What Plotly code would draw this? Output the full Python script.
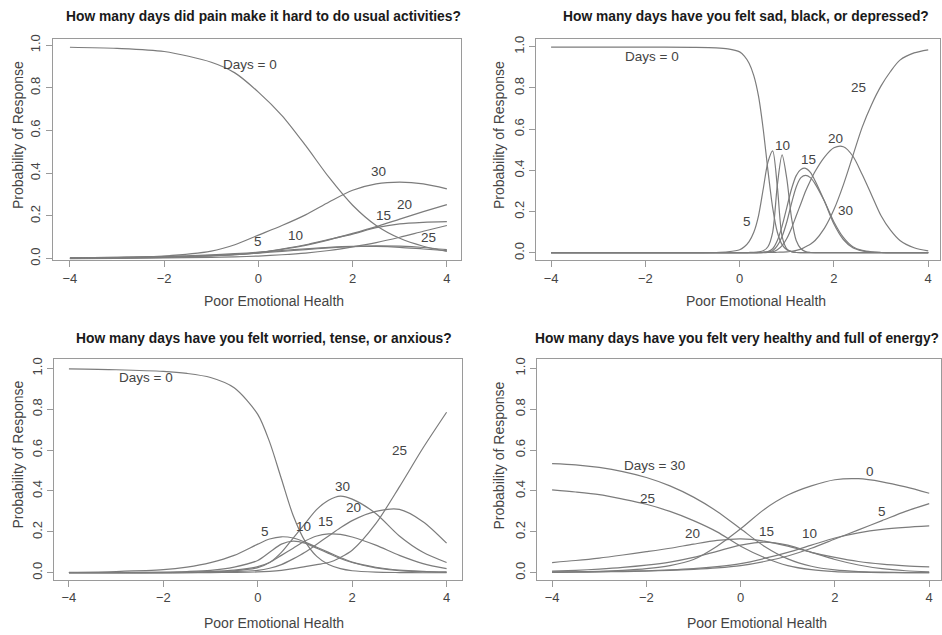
import plotly.graph_objects as go

# ---------------- data ----------------
# Panel 1: pain made it hard to do usual activities
X1 = [-4, -3, -2, -1, -0.5, 0, 0.5, 1, 1.5, 2, 2.5, 3, 3.5, 4]
P1_D0 = [0.99, 0.985, 0.97, 0.92, 0.87, 0.78, 0.67, 0.53, 0.38, 0.25, 0.155, 0.095, 0.058, 0.034]
P1_D5 = [0.003, 0.006, 0.01, 0.018, 0.023, 0.03, 0.038, 0.046, 0.053, 0.057, 0.057, 0.053, 0.045, 0.037]
P1_D10 = [0.002, 0.004, 0.008, 0.015, 0.02, 0.026, 0.034, 0.042, 0.05, 0.056, 0.06, 0.058, 0.052, 0.042]
P1_D15 = [0.001, 0.003, 0.006, 0.013, 0.018, 0.028, 0.045, 0.065, 0.09, 0.115, 0.145, 0.163, 0.17, 0.173]
P1_D20 = [0.001, 0.003, 0.006, 0.013, 0.018, 0.027, 0.043, 0.062, 0.088, 0.118, 0.15, 0.185, 0.22, 0.253]
P1_D25 = [0.0, 0.001, 0.003, 0.006, 0.008, 0.012, 0.018, 0.026, 0.038, 0.055, 0.075, 0.10, 0.128, 0.155]
P1_D30 = [0.003, 0.006, 0.012, 0.035, 0.065, 0.11, 0.155, 0.205, 0.265, 0.32, 0.35, 0.358, 0.35, 0.327]

# Panel 2: sad, black, or depressed
X2 = [-4, -2, -1, -0.5, -0.25, 0, 0.1, 0.2, 0.3, 0.4, 0.5, 0.6, 0.7, 0.8, 0.9, 1.0, 1.1, 1.2,
      1.3, 1.4, 1.5, 1.6, 1.8, 2.0, 2.2, 2.4, 2.6, 2.8, 3.0, 3.2, 3.4, 3.7, 4.0]
P2_D0 = [0.998, 0.998, 0.997, 0.995, 0.99, 0.975, 0.955, 0.92, 0.86, 0.76, 0.60, 0.40, 0.22, 0.10, 0.04,
         0.015, 0.006, 0.002, 0.001, 0.001, 0.001, 0.001, 0.001, 0.001, 0.001, 0.001, 0.001, 0.001,
         0.001, 0.001, 0.001, 0.001, 0.001]
P2_D5 = [0.001, 0.001, 0.001, 0.002, 0.005, 0.015, 0.03, 0.055, 0.10, 0.18, 0.31, 0.44, 0.495, 0.32, 0.08,
         0.02, 0.006, 0.002, 0.001, 0.001, 0.001, 0.001, 0.001, 0.001, 0.001, 0.001, 0.001, 0.001,
         0.001, 0.001, 0.001, 0.001, 0.001]
P2_D10 = [0.001, 0.001, 0.001, 0.001, 0.001, 0.001, 0.001, 0.002, 0.003, 0.005, 0.01, 0.03, 0.10, 0.33, 0.475,
          0.36, 0.17, 0.06, 0.02, 0.006, 0.002, 0.001, 0.001, 0.001, 0.001, 0.001, 0.001, 0.001,
          0.001, 0.001, 0.001, 0.001, 0.001]
P2_D15 = [0.001, 0.001, 0.001, 0.001, 0.001, 0.001, 0.001, 0.001, 0.001, 0.002, 0.003, 0.006, 0.02, 0.06, 0.13,
          0.22, 0.31, 0.375, 0.405, 0.41, 0.39, 0.35, 0.25, 0.14, 0.065, 0.025, 0.01, 0.004,
          0.002, 0.001, 0.001, 0.001, 0.001]
P2_D20 = [0.001, 0.001, 0.001, 0.001, 0.001, 0.001, 0.001, 0.001, 0.001, 0.001, 0.002, 0.003, 0.005, 0.015, 0.035,
          0.07, 0.12, 0.18, 0.24, 0.30, 0.35, 0.395, 0.465, 0.51, 0.515, 0.47, 0.38, 0.28,
          0.18, 0.11, 0.06, 0.025, 0.01]
P2_D25 = [0.001, 0.001, 0.001, 0.001, 0.001, 0.001, 0.001, 0.001, 0.001, 0.001, 0.001, 0.002, 0.002, 0.003, 0.004,
          0.005, 0.008, 0.012, 0.018, 0.03, 0.042, 0.06, 0.12, 0.21, 0.33, 0.47, 0.61, 0.72,
          0.81, 0.88, 0.935, 0.97, 0.985]
P2_D30 = [0.001, 0.001, 0.001, 0.001, 0.001, 0.001, 0.001, 0.001, 0.001, 0.001, 0.002, 0.004, 0.01, 0.035, 0.08,
          0.15, 0.24, 0.32, 0.365, 0.376, 0.365, 0.335, 0.25, 0.15, 0.075, 0.03, 0.012, 0.005,
          0.002, 0.001, 0.001, 0.001, 0.001]

# Panel 3: worried, tense, or anxious
X3 = [-4, -3, -2, -1.5, -1, -0.5, 0, 0.25, 0.5, 0.75, 1, 1.25, 1.5, 1.75, 2, 2.5, 3, 3.5, 4]
P3_D0 = [0.997, 0.993, 0.985, 0.975, 0.955, 0.905, 0.775, 0.64, 0.46, 0.28, 0.155, 0.08, 0.04, 0.02, 0.01,
         0.003, 0.001, 0.0, 0.0]
P3_D5 = [0.002, 0.006, 0.015, 0.028, 0.05, 0.085, 0.14, 0.165, 0.176, 0.17, 0.15, 0.125, 0.10, 0.075, 0.052,
         0.027, 0.013, 0.007, 0.004]
P3_D10 = [0.0, 0.001, 0.003, 0.006, 0.012, 0.028, 0.06, 0.10, 0.14, 0.155, 0.145, 0.12, 0.095, 0.07, 0.05,
          0.024, 0.01, 0.005, 0.002]
P3_D15 = [0.0, 0.0, 0.001, 0.003, 0.006, 0.013, 0.03, 0.05, 0.085, 0.12, 0.155, 0.18, 0.19, 0.188, 0.175,
          0.135, 0.085, 0.045, 0.02]
P3_D20 = [0.0, 0.0, 0.0, 0.001, 0.003, 0.006, 0.012, 0.022, 0.04, 0.068, 0.10, 0.14, 0.18, 0.22, 0.255,
          0.30, 0.31, 0.25, 0.145]
P3_D25 = [0.0, 0.0, 0.0, 0.0, 0.001, 0.002, 0.004, 0.007, 0.012, 0.02, 0.03, 0.04, 0.05, 0.075, 0.11,
          0.24, 0.42, 0.61, 0.785]
P3_D30 = [0.0, 0.0, 0.001, 0.002, 0.005, 0.01, 0.025, 0.05, 0.10, 0.17, 0.24, 0.31, 0.355, 0.375, 0.36,
          0.29, 0.18, 0.10, 0.05]

# Panel 4: very healthy and full of energy
X4 = [-4, -3.5, -3, -2.5, -2, -1.5, -1, -0.5, 0, 0.5, 1, 1.5, 2, 2.5, 3, 3.5, 4]
P4_D0 = [0.002, 0.004, 0.007, 0.012, 0.02, 0.035, 0.065, 0.13, 0.215, 0.31, 0.38, 0.425, 0.455, 0.46, 0.445,
         0.42, 0.389]
P4_D5 = [0.002, 0.003, 0.004, 0.006, 0.008, 0.012, 0.017, 0.024, 0.035, 0.055, 0.082, 0.12, 0.165, 0.21,
         0.255, 0.30, 0.338]
P4_D10 = [0.004, 0.005, 0.006, 0.008, 0.01, 0.014, 0.02, 0.03, 0.045, 0.07, 0.10, 0.135, 0.17, 0.195,
          0.212, 0.222, 0.229]
P4_D15 = [0.008, 0.012, 0.018, 0.026, 0.037, 0.052, 0.075, 0.105, 0.135, 0.15, 0.135, 0.10, 0.065, 0.038,
          0.02, 0.01, 0.005]
P4_D20 = [0.05, 0.06, 0.072, 0.087, 0.103, 0.12, 0.14, 0.158, 0.166, 0.155, 0.13, 0.10, 0.075, 0.055,
          0.042, 0.034, 0.029]
P4_D25 = [0.405, 0.395, 0.382, 0.36, 0.335, 0.30, 0.255, 0.20, 0.13, 0.075, 0.035, 0.015, 0.006, 0.003,
          0.001, 0.0, 0.0]
P4_D30 = [0.534, 0.528, 0.515, 0.495, 0.466, 0.425, 0.37, 0.30, 0.215, 0.13, 0.068, 0.032, 0.014, 0.006,
          0.003, 0.001, 0.001]

TITLES = [
    "How many days did pain make it hard to do usual activities?",
    "How many days have you felt sad, black, or depressed?",
    "How many days have you felt worried, tense, or anxious?",
    "How many days have you felt very healthy and full of energy?",
]
X_TITLE = "Poor Emotional Health"
Y_TITLE = "Probability of Response"
X_TICKS = [-4, -2, 0, 2, 4]
Y_TICKS = [0.0, 0.2, 0.4, 0.6, 0.8, 1.0]

# curve label texts with their anchor points (data coords)
LABELS = [
    [("Days = 0", -0.17, 0.91), ("30", 2.55, 0.41), ("20", 3.11, 0.255), ("15", 2.65, 0.20),
     ("10", 0.78, 0.11), ("5", 0.0, 0.08), ("25", 3.6, 0.10)],
    [("Days = 0", -1.85, 0.954), ("25", 2.53, 0.80), ("20", 2.03, 0.554), ("10", 0.90, 0.522),
     ("15", 1.47, 0.454), ("5", 0.16, 0.154), ("30", 2.24, 0.205)],
    [("Days = 0", -2.36, 0.957), ("25", 3.0, 0.60), ("30", 1.79, 0.424), ("20", 2.02, 0.32),
     ("15", 1.44, 0.253), ("10", 0.97, 0.224), ("5", 0.15, 0.20)],
    [("Days = 30", -1.83, 0.525), ("25", -1.97, 0.363), ("20", -1.02, 0.192), ("15", 0.54, 0.20),
     ("10", 1.45, 0.192), ("0", 2.75, 0.493), ("5", 3.0, 0.30)],
]

PANELS = [
    (X1, [P1_D0, P1_D5, P1_D10, P1_D15, P1_D20, P1_D25, P1_D30]),
    (X2, [P2_D0, P2_D5, P2_D10, P2_D15, P2_D20, P2_D25, P2_D30]),
    (X3, [P3_D0, P3_D5, P3_D10, P3_D15, P3_D20, P3_D25, P3_D30]),
    (X4, [P4_D0, P4_D5, P4_D10, P4_D15, P4_D20, P4_D25, P4_D30]),
]

# ---------------- layout geometry (pixels of a 942x635 page) ----------------
W, H = 942, 635
BOX = [  # left, right, top, bottom
    (52.5, 461, 35, 260),
    (536, 940, 35, 260),
    (54.3, 461.7, 360, 584),
    (537, 941, 360, 584),
]
XRANGES = [(-4.37, 4.30), (-4.32, 4.25), (-4.31, 4.32), (-4.32, 4.25)]
YRANGES = [(-0.008, 1.031), (-0.036, 1.04), (-0.034, 1.046), (-0.034, 1.046)]
TITLE_POS = [(263, 13), (746, 13), (264, 339), (737, 339)]
XT_POS = [(274, 301), (756, 301), (274, 628), (757, 628)]
YT_POS = [(18, 133), (499, 133), (18, 457), (499, 458)]

FONT = "Liberation Sans, Arial, Helvetica, sans-serif"
LINE_COL = "#7c7c7c"
AXIS_COL = "#9a9a9a"
TEXT_COL = "#444444"

fig = go.Figure()
annotations = []

for i, (xs, series) in enumerate(PANELS):
    n = "" if i == 0 else str(i + 1)
    xa, ya = "x" + n, "y" + n
    for ys in series:
        fig.add_trace(go.Scatter(
            x=xs, y=ys, mode="lines", xaxis=xa, yaxis=ya,
            line=dict(color=LINE_COL, width=1.2, shape="spline", smoothing=0.8),
            hoverinfo="skip", showlegend=False,
        ))
    l, r, t, b = BOX[i]
    axis_common = dict(
        showgrid=False, zeroline=False, showline=True, linecolor=AXIS_COL, linewidth=1,
        mirror=True, ticks="outside", ticklen=6, tickcolor=AXIS_COL, tickwidth=1,
        tickfont=dict(family=FONT, size=13, color=TEXT_COL),
    )
    fig.update_layout(**{
        ("xaxis" + n): dict(domain=[l / W, r / W], range=list(XRANGES[i]), anchor=ya,
                            tickvals=X_TICKS, **axis_common),
        ("yaxis" + n): dict(domain=[1 - b / H, 1 - t / H], range=list(YRANGES[i]), anchor=xa,
                            tickvals=Y_TICKS, tickformat=".1f", tickangle=-90, **axis_common),
    })
    for txt, lx, ly in LABELS[i]:
        annotations.append(dict(text=txt, x=lx, y=ly, xref=xa, yref=ya, showarrow=False,
                                font=dict(family=FONT, size=13.5, color=TEXT_COL)))
    tx, ty = TITLE_POS[i]
    annotations.append(dict(text="<b>" + TITLES[i] + "</b>", x=tx / W, y=1 - ty / H,
                            xref="paper", yref="paper", showarrow=False,
                            xanchor="center", yanchor="middle",
                            font=dict(family=FONT, size=13.8, color="#1a1a1a")))
    px, py = XT_POS[i]
    annotations.append(dict(text=X_TITLE, x=px / W, y=1 - py / H, xref="paper", yref="paper",
                            showarrow=False, xanchor="center", yanchor="middle",
                            font=dict(family=FONT, size=14, color=TEXT_COL)))
    qx, qy = YT_POS[i]
    annotations.append(dict(text=Y_TITLE, x=qx / W, y=1 - qy / H, xref="paper", yref="paper",
                            showarrow=False, xanchor="center", yanchor="middle", textangle=-90,
                            font=dict(family=FONT, size=14, color=TEXT_COL)))

fig.update_layout(
    width=W, height=H, margin=dict(l=0, r=0, t=0, b=0),
    paper_bgcolor="white", plot_bgcolor="white",
    annotations=annotations, showlegend=False,
)

fig.write_html("out.html")
